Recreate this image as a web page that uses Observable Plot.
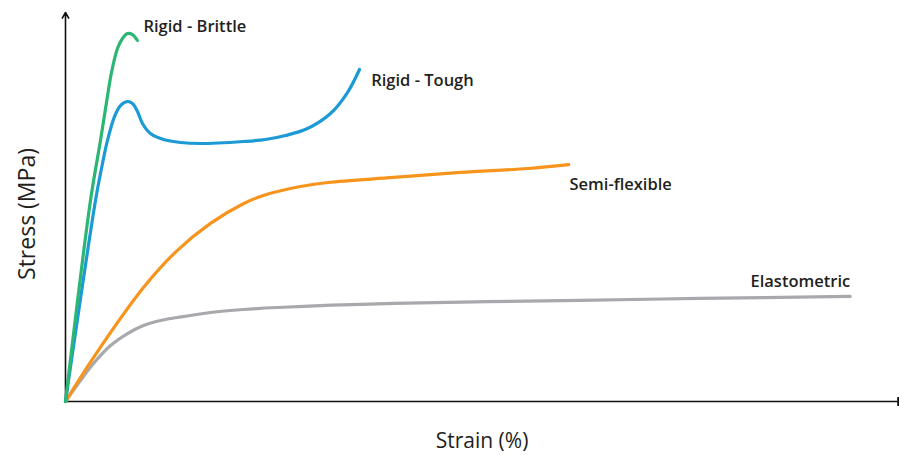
<!DOCTYPE html>
<html>
<head>
<meta charset="utf-8">
<script src="https://cdn.jsdelivr.net/npm/d3@7"></script>
<script src="https://cdn.jsdelivr.net/npm/@observablehq/plot@0.6"></script>
<style>
  html, body { margin: 0; padding: 0; background: #fff; }
  #chart svg { display: block; }
</style>
</head>
<body>
<div id="chart"></div>
<script>
// Strain (arbitrary %, 0-100) and stress (arbitrary MPa, 0-100)
const brittleStrain = [0, 3.00, 4.20, 4.92, 5.52, 6.24, 6.84, 7.44, 8.04, 8.64];
const brittleStress = [0, 51.67, 67.10, 76.86, 84.58, 90.75, 93.32, 94.60, 94.34, 92.80];

const toughStrain = [0, 3.60, 4.32, 5.04, 5.88, 6.60, 7.44, 8.04, 8.64, 9.24, 10.20, 11.76, 13.81, 16.21, 21.37, 24.01, 26.41, 29.05, 31.81, 33.85, 35.29];
const toughStress = [0, 51.67, 59.90, 67.10, 73.26, 76.09, 77.12, 76.61, 74.55, 71.47, 68.89, 67.35, 66.58, 66.32, 66.84, 67.35, 68.38, 70.18, 74.04, 79.43, 85.35];

const semiStrain = [0, 3.36, 9.36, 13.4, 17.4, 21.4, 23.41, 25.45, 28.21, 31.5, 39.4, 47.4, 55.5, 60.4];
const semiStress = [0, 11.3, 29.3, 38.8, 45.8, 50.9, 52.70, 53.98, 55.27, 56.3, 57.6, 58.9, 59.9, 60.9];

const elastoStrain = [0, 1.8, 3.36, 5.4, 7.44, 9.36, 11.40, 13.45, 17.41, 21.37, 25.45, 39.4, 61.8, 76.2, 94.2];
const elastoStress = [0, 5.4, 9.77, 14.4, 17.48, 19.54, 20.82, 21.59, 22.88, 23.65, 24.16, 25.2, 26.0, 26.5, 27.0];

const seriesNames = ["Rigid - Brittle", "Rigid - Tough", "Semi-flexible", "Elastometric"];
const seriesColors = ["#2bb673", "#1c9ad6", "#f7941d", "#a7a9ac"];

const labelX = [9.36, 36.7, 60.5, 94.2];
const labelY = [96.4, 82.5, 55.8, 30.8];
const labelAnchor = ["start", "start", "start", "end"];

const xTitle = "Strain (%)";
const yTitle = "Stress (MPa)";

const build = (s, xs, ys) => xs.map((x, i) => ({series: s, strain: x, stress: ys[i]}));
const curves = [
  build(seriesNames[0], brittleStrain, brittleStress),
  build(seriesNames[1], toughStrain, toughStress),
  build(seriesNames[2], semiStrain, semiStress),
  build(seriesNames[3], elastoStrain, elastoStress)
];
const labels = seriesNames.map((n, i) => ({name: n, x: labelX[i], y: labelY[i], anchor: labelAnchor[i]}));

const labelStyle = {x: "x", y: "y", text: "name", fontSize: 16.5, fontWeight: 600, fill: "#231f20", fontFamily: "Open Sans"};

const marks = [
  // axes
  Plot.arrow([{x1: 0, y1: 0, x2: 0, y2: 100}], {x1: "x1", y1: "y1", x2: "x2", y2: "y2", stroke: "#111", strokeWidth: 1.6, headLength: 6}),
  Plot.line([{x: 0, y: 0}, {x: 100, y: 0}], {x: "x", y: "y", stroke: "#111", strokeWidth: 1.6, markerEnd: "tick"}),
];
// curves (reverse order so green is on top)
[3, 2, 1, 0].forEach(i => {
  marks.push(Plot.line(curves[i], {x: "strain", y: "stress", stroke: seriesColors[i], strokeWidth: 3.2, curve: "catmull-rom", strokeLinecap: "round", strokeLinejoin: "round"}));
});
marks.push(
  Plot.text(labels.filter(d => d.anchor === "start"), {...labelStyle, textAnchor: "start"}),
  Plot.text(labels.filter(d => d.anchor === "end"), {...labelStyle, textAnchor: "end"}),
  Plot.text([xTitle], {frameAnchor: "bottom", dy: 46, text: d => d, fontSize: 21, fill: "#231f20", fontFamily: "Open Sans", textAnchor: "middle"}),
  Plot.text([yTitle], {frameAnchor: "left", dx: -38, dy: 7, rotate: -90, text: d => d, fontSize: 23, fill: "#231f20", fontFamily: "Open Sans", textAnchor: "middle"})
);

const chart = Plot.plot({
  width: 899,
  height: 455,
  marginLeft: 65,
  marginRight: 1,
  marginTop: 12,
  marginBottom: 54,
  x: {domain: [0, 100], axis: null},
  y: {domain: [0, 100], axis: null},
  style: {background: "#fff", fontFamily: "Open Sans"},
  marks
});
document.getElementById("chart").appendChild(chart);
</script>
</body>
</html>
